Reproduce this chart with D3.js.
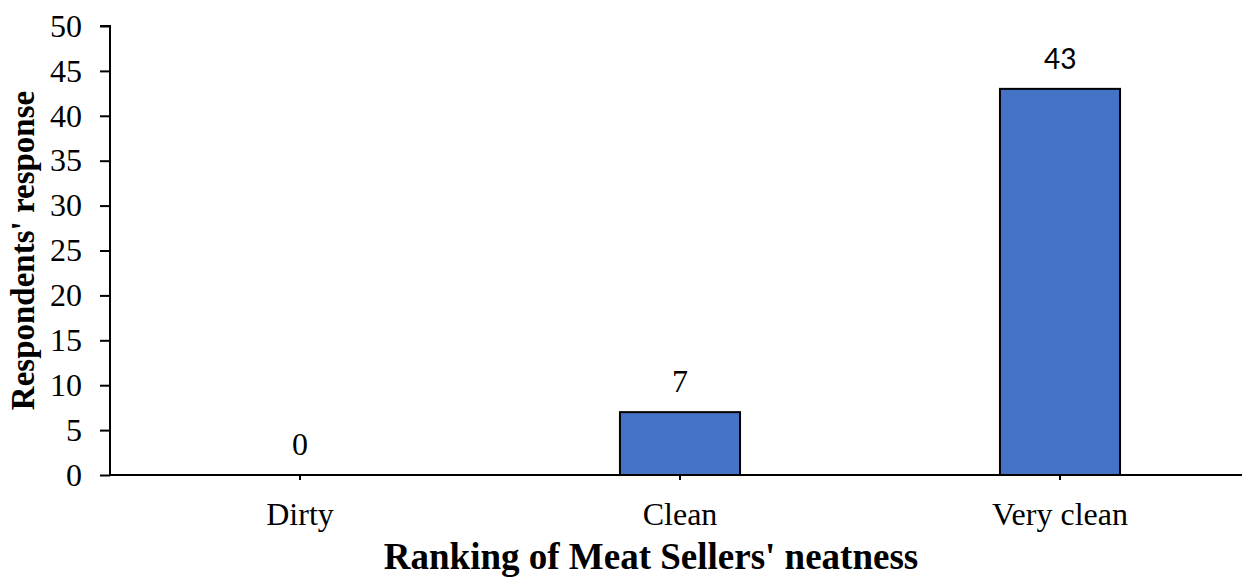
<!DOCTYPE html>
<html>
<head>
<meta charset="utf-8">
<script src="https://cdn.jsdelivr.net/npm/d3@7"></script>
<style>
  body { margin: 0; background: #fff; }
</style>
</head>
<body>
<script>
// chart data
var categories = ["Dirty", "Clean", "Very clean"];
var responses = [0, 7, 43];
var yTicks = [0, 5, 10, 15, 20, 25, 30, 35, 40, 45, 50];

var serif = "'Liberation Serif', 'Times New Roman', 'DejaVu Serif', serif";

var W = 1242, H = 577;
var margin = {top: 26, right: 0, bottom: 102, left: 110};
var width = W - margin.left - margin.right,
    height = H - margin.top - margin.bottom;

var svg = d3.select("body").append("svg")
    .attr("width", W).attr("height", H)
    .style("font-family", serif)
  .append("g")
    .attr("transform", "translate(" + margin.left + "," + margin.top + ")");

// x scale - the bands run off the right edge a bit like the original
var x = d3.scaleBand().domain(categories).range([0, 1140]).padding(0);
var y = d3.scaleLinear().domain([0, 50]).range([height, 0]);
var barW = x.bandwidth() * 0.316;

// bars
svg.selectAll(".bar")
    .data(responses)
  .enter().append("rect")
    .attr("class", "bar")
    .attr("x", function(d, i) { return x(categories[i]) + x.bandwidth() / 2 - barW / 2; })
    .attr("y", function(d) { return y(d); })
    .attr("width", barW)
    .attr("height", function(d) { return height - y(d); })
    .style("fill", "#4472C4")
    .style("stroke", "#000")
    .style("stroke-width", 2);

// value labels (the 43 is in a sans face in the original)
svg.selectAll(".lbl")
    .data(responses)
  .enter().append("text")
    .attr("class", "lbl")
    .attr("x", function(d, i) { return x(categories[i]) + x.bandwidth() / 2; })
    .attr("y", function(d) { return y(d) - 20; })
    .style("text-anchor", "middle")
    .style("font-size", "32px")
    .style("font-family", function(d) { return d == 43 ? "Carlito, 'Liberation Sans', sans-serif" : serif; })
    .text(function(d) { return d; });

// y axis
var yAx = svg.append("g")
    .call(d3.axisLeft(y).tickValues(yTicks).tickSize(10).tickPadding(18));
yAx.select(".domain").attr("d", "M0," + height + "V0H-10").style("stroke-width", 2);
yAx.selectAll(".tick line").style("stroke-width", 2);
yAx.selectAll(".tick text").style("font-size", "32px").style("font-family", serif);

// x axis
var xAx = svg.append("g")
    .attr("transform", "translate(0," + height + ")")
    .call(d3.axisBottom(x).tickSize(5).tickPadding(22));
xAx.select(".domain").attr("d", "M0,0H" + width).style("stroke-width", 2);
xAx.selectAll(".tick line").style("stroke-width", 2);
xAx.selectAll(".tick text").style("font-size", "32px").style("font-family", serif);

// axis titles
svg.append("text")
    .attr("x", 651 - margin.left)
    .attr("y", height + 94)
    .style("text-anchor", "middle")
    .style("font-size", "37px")
    .style("font-weight", "bold")
    .text("Ranking of Meat Sellers' neatness");

svg.append("text")
    .attr("transform", "rotate(-90)")
    .attr("x", -(height / 2))
    .attr("y", 34 - margin.left)
    .style("text-anchor", "middle")
    .style("font-size", "33px")
    .style("font-weight", "bold")
    .text("Respondents' response");
</script>
</body>
</html>
